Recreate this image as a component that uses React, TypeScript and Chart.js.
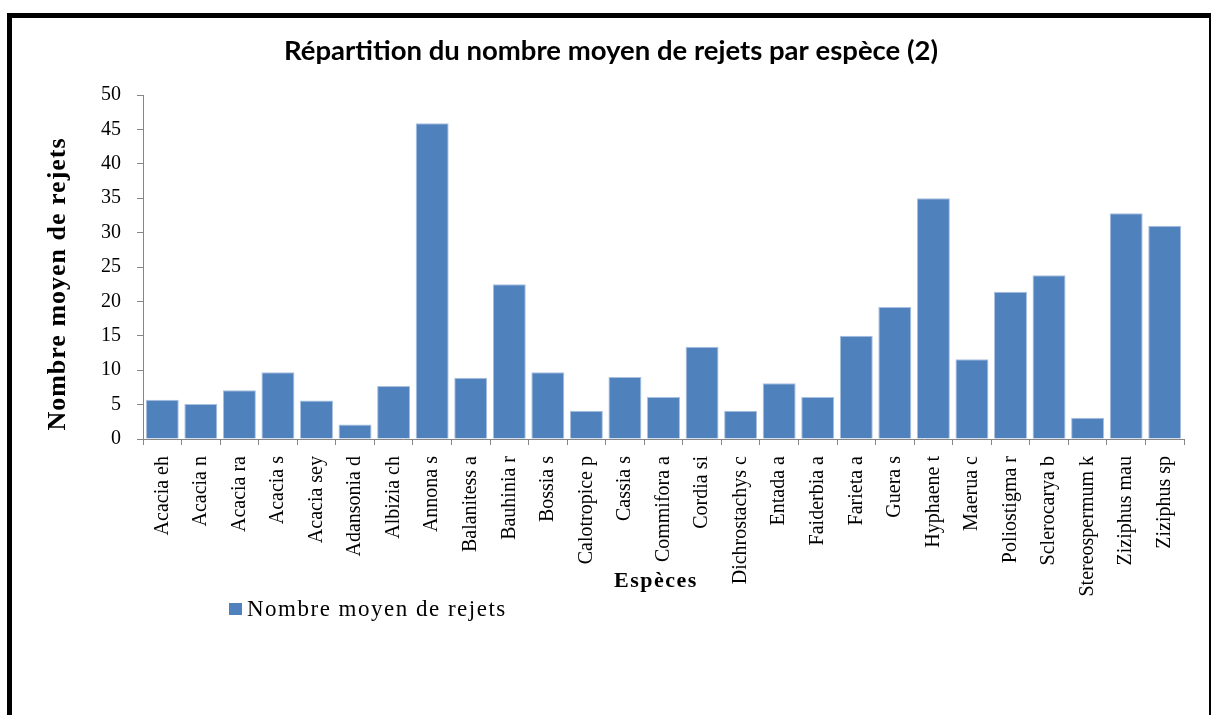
import React, { useEffect, useRef } from "react";
import { Chart, registerables } from "chart.js";

Chart.register(...registerables);

const categories = [
  "Acacia eh", "Acacia n", "Acacia ra", "Acacia s", "Acacia sey", "Adansonia d",
  "Albizia ch", "Annona s", "Balanitess a", "Bauhinia r", "Bossia s", "Calotropice p",
  "Cassia s", "Commifora a", "Cordia si", "Dichrostachys c", "Entada a", "Faiderbia a",
  "Farieta a", "Guera s", "Hyphaene t", "Maerua c", "Poliostigma r", "Sclerocarya b",
  "Stereospermum k", "Ziziphus mau", "Ziziphus sp",
];

const values = [
  5.7, 5.1, 7.1, 9.7, 5.6, 2.1, 7.7, 45.9, 8.9, 22.5, 9.7, 4.1, 9.0, 6.1,
  13.4, 4.1, 8.1, 6.1, 15.0, 19.2, 35.0, 11.6, 21.4, 23.8, 3.1, 32.8, 31.0,
];

const seriesName = "Nombre moyen de rejets";
const chartTitle = "Répartition du nombre moyen de rejets par espèce (2)";
const yAxisTitle = "Nombre moyen de rejets";
const xAxisTitle = "Espèces";
const yMin = 0;
const yMax = 50;
const yStep = 5;

const BAR_COLOR = "#4F81BD";
const AXIS_COLOR = "#868686";
const SERIF = '"Liberation Serif", "Times New Roman", serif';

const extrasPlugin = {
  id: "extras",
  afterDraw(chart: any) {
    const ctx = chart.ctx as CanvasRenderingContext2D;
    ctx.save();
    ctx.fillStyle = "#000";
    // Y axis title
    ctx.save();
    ctx.font = `bold 26px ${SERIF}`;
    (ctx as any).letterSpacing = "1px";
    ctx.translate(58, 284);
    ctx.rotate(-Math.PI / 2);
    ctx.textAlign = "center";
    ctx.textBaseline = "middle";
    ctx.fillText(yAxisTitle, 0, 0);
    ctx.restore();
    // X axis title
    ctx.save();
    ctx.font = `bold 22px ${SERIF}`;
    (ctx as any).letterSpacing = "1.5px";
    ctx.textAlign = "center";
    ctx.textBaseline = "alphabetic";
    ctx.fillText(xAxisTitle, 656, 587);
    ctx.restore();
    // Legend
    ctx.save();
    ctx.fillStyle = BAR_COLOR;
    ctx.fillRect(229, 603, 13, 12);
    ctx.fillStyle = "#000";
    ctx.font = `23px ${SERIF}`;
    (ctx as any).letterSpacing = "1.5px";
    ctx.textAlign = "left";
    ctx.textBaseline = "alphabetic";
    ctx.fillText(seriesName, 247, 616);
    ctx.restore();
    ctx.restore();
  },
};

export default function App() {
  const canvasRef = useRef<HTMLCanvasElement | null>(null);

  useEffect(() => {
    if (!canvasRef.current) return;
    const chart = new Chart(canvasRef.current, {
      type: "bar",
      data: {
        labels: categories,
        datasets: [
          {
            label: seriesName,
            data: values,
            backgroundColor: BAR_COLOR,
            borderColor: "#A9C0DF",
            borderWidth: 1,
            barPercentage: 0.855,
            categoryPercentage: 1,
          },
        ],
      },
      options: {
        responsive: false,
        animation: false,
        layout: { padding: { top: 0, left: 38, right: 27, bottom: 0 } },
        plugins: {
          legend: { display: false },
          tooltip: { enabled: false },
          title: {
            display: true,
            text: chartTitle,
            color: "#000",
            font: { family: "Lato", size: 27.5, weight: "bold", lineHeight: 1.2 },
            padding: { top: 35, bottom: 27 },
          },
        },
        scales: {
          x: {
            grid: {
              display: true,
              drawOnChartArea: false,
              drawTicks: true,
              tickLength: 6,
              color: AXIS_COLOR,
              offset: true,
            },
            border: { display: true, color: AXIS_COLOR, width: 1 },
            ticks: {
              autoSkip: false,
              minRotation: 90,
              maxRotation: 90,
              padding: 11,
              color: "#000",
              font: { family: SERIF, size: 20 },
            },
            afterFit(scale: any) {
              scale.height = 276;
            },
          },
          y: {
            min: yMin,
            max: yMax,
            grid: {
              display: true,
              drawOnChartArea: false,
              drawTicks: true,
              tickLength: 6,
              color: AXIS_COLOR,
            },
            border: { display: true, color: AXIS_COLOR, width: 1 },
            ticks: {
              stepSize: yStep,
              padding: 16,
              color: "#000",
              font: { family: SERIF, size: 20 },
            },
            afterFit(scale: any) {
              scale.width = 105;
            },
          },
        },
      },
      plugins: [extrasPlugin],
    });
    return () => chart.destroy();
  }, []);

  return (
    <div
      style={{
        position: "fixed",
        left: 0,
        top: 0,
        width: 1211,
        height: 715,
        background: "#fff",
        overflow: "hidden",
      }}
    >
      <div
        style={{
          position: "absolute",
          left: 7,
          top: 13,
          width: 1207,
          height: 740,
          boxSizing: "border-box",
          borderTop: "5px solid #000",
          borderLeft: "5px solid #000",
          borderRight: "5px solid #000",
        }}
      />
      <canvas
        ref={canvasRef}
        width={1211}
        height={715}
        style={{ position: "absolute", left: 0, top: 0, width: 1211, height: 715 }}
      />
    </div>
  );
}
